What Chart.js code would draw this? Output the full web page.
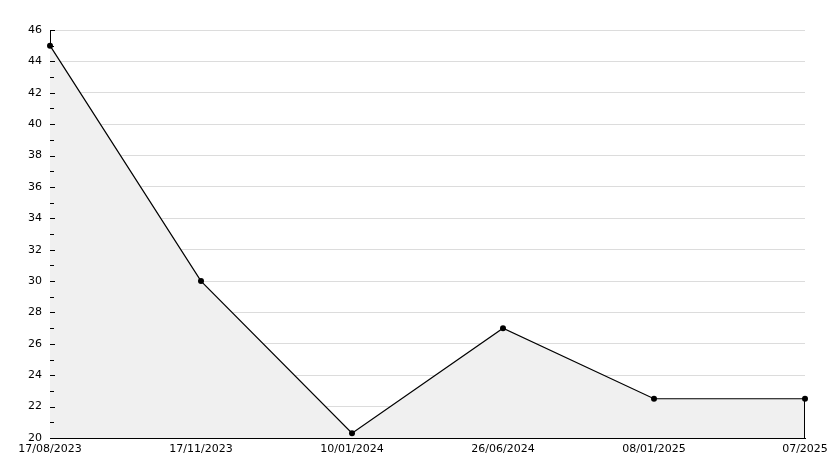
<!DOCTYPE html>
<html>
<head>
<meta charset="utf-8">
<script src="https://cdn.jsdelivr.net/npm/chart.js@4"></script>
<style>
  html, body { margin: 0; padding: 0; background: #fff; }
  #wrap { width: 834px; height: 468px; }
</style>
</head>
<body>
<div id="wrap"><canvas id="chart" width="834" height="468"></canvas></div>
<script>
// chart data
const dates = ['17/08/2023', '17/11/2023', '10/01/2024', '26/06/2024', '08/01/2025', '07/2025'];
const values = [45, 30, 20.3, 27, 22.5, 22.5];
const yMin = 20;
const yMax = 46;

// inward ticks on the y axis + closing edge of the filled area
const extras = {
    id: 'extras',
    afterDatasetsDraw(chart) {
        const ctx = chart.ctx;
        const y = chart.scales.y;
        const area = chart.chartArea;
        ctx.save();
        ctx.strokeStyle = '#000';
        ctx.lineWidth = 1;
        y.ticks.forEach(t => {
            const py = Math.round(y.getPixelForValue(t.value)) + 0.5;
            const len = t.value % 2 === 0 ? 5 : 4;
            ctx.beginPath();
            ctx.moveTo(area.left, py);
            ctx.lineTo(area.left + len, py);
            ctx.stroke();
        });
        const meta = chart.getDatasetMeta(0);
        const last = meta.data[meta.data.length - 1];
        ctx.beginPath();
        ctx.moveTo(Math.round(last.x) - 0.5, last.y);
        ctx.lineTo(Math.round(last.x) - 0.5, area.bottom);
        ctx.stroke();
        ctx.restore();
    }
};

Chart.defaults.font.family = 'DejaVu Sans';
Chart.defaults.font.size = 11;
Chart.defaults.color = '#000';

new Chart(document.getElementById('chart').getContext('2d'), {
    type: 'line',
    data: {
        labels: dates,
        datasets: [{
            data: values,
            borderColor: '#000',
            borderWidth: 1.2,
            backgroundColor: '#f0f0f0',
            fill: 'start',
            tension: 0,
            pointRadius: 3,
            pointBackgroundColor: '#000',
            pointBorderColor: '#000',
            pointBorderWidth: 0,
            clip: false
        }]
    },
    options: {
        responsive: false,
        animation: false,
        layout: { padding: { top: 30, right: 29, left: 0, bottom: 0 } },
        plugins: {
            legend: { display: false },
            tooltip: { enabled: false }
        },
        scales: {
            x: {
                type: 'category',
                offset: false,
                grid: { display: false, drawTicks: false },
                border: { display: true, color: '#000', width: 1 },
                ticks: { padding: 5, maxRotation: 0, autoSkip: false },
                afterFit(scale) { scale.height = 30; }
            },
            y: {
                min: yMin,
                max: yMax,
                grid: {
                    drawTicks: false,
                    color: c => (c.tick && c.tick.value % 2 === 0 && c.tick.value !== yMin) ? '#dcdcdc' : 'rgba(0,0,0,0)'
                },
                border: { display: true, color: '#000', width: 1 },
                ticks: {
                    stepSize: 1,
                    padding: 8,
                    autoSkip: false,
                    callback: v => (v % 2 === 0 ? v : '')
                },
                afterFit(scale) { scale.width = 50; }
            }
        }
    },
    plugins: [extras]
});
</script>
</body>
</html>
